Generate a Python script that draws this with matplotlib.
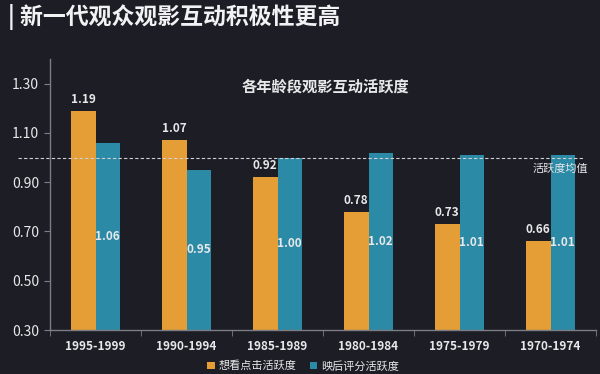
import numpy as np
import matplotlib
matplotlib.use("Agg")
import matplotlib.pyplot as plt

plt.rcParams['font.family'] = ['Noto Sans CJK SC', 'DejaVu Sans']

# data
groups = ['1995-1999', '1990-1994', '1985-1989', '1980-1984', '1975-1979', '1970-1974']
want_click = [1.19, 1.07, 0.92, 0.78, 0.73, 0.66]
post_rating = [1.06, 0.95, 1.00, 1.02, 1.01, 1.01]
series_names = ['想看点击活跃度', '映后评分活跃度']
avg_value = 1.0
yticks = [0.30, 0.50, 0.70, 0.90, 1.10, 1.30]

bg = '#1d1e25'
orange = '#e59d35'
teal = '#2b8aa5'
axis_col = '#7d7e85'
text_col = '#e8e8ea'

fig = plt.figure(figsize=(6, 3.74), dpi=100, facecolor=bg)
ax = fig.add_axes([50/600, 1-330/374, 546/600, (330-59)/374])
ax.set_facecolor(bg)

x = np.arange(len(groups))
w = 0.27
b1 = ax.bar(x - w/2, np.array(want_click) - 0.3, w, bottom=0.3, color=orange)
b2 = ax.bar(x + w/2, np.array(post_rating) - 0.3, w, bottom=0.3, color=teal)

for xi, v in zip(x, want_click):
    ax.text(xi - w/2, v + 0.02, f'{v:.2f}', ha='center', va='bottom',
            color=text_col, fontsize=8.5, fontweight='bold')
for xi, v in zip(x, post_rating):
    ax.text(xi + w/2, (v + 0.3)/2, f'{v:.2f}', ha='center', va='center',
            color=text_col, fontsize=8.5, fontweight='bold')

# average line
ax.plot([-0.059, 0.976], [avg_value, avg_value], ls=(0, (3, 2)), lw=0.8,
        color='#cfcfd4', transform=ax.get_yaxis_transform(), clip_on=False)
ax.text(0.935, avg_value - 0.025, '活跃度均值', transform=ax.get_yaxis_transform(),
        ha='center', va='top', color=text_col, fontsize=8)

ax.set_xlim(-0.5, len(groups) - 0.5)
ax.set_ylim(0.3, 1.4)
ax.set_yticks(yticks)
ax.set_yticklabels([f'{t:.2f}' for t in yticks])
ax.set_xticks(np.arange(len(groups) + 1) - 0.5, minor=True)
ax.set_xticks(x)
ax.set_xticklabels(groups, fontweight='bold')
ax.tick_params(axis='x', which='major', length=0, colors=text_col, labelsize=8.5, pad=7)
ax.tick_params(axis='x', which='minor', length=4, color=axis_col)
ax.tick_params(axis='y', length=4, color=axis_col, labelcolor=text_col, labelsize=10, pad=4)
for s in ['top', 'right']:
    ax.spines[s].set_visible(False)
for s in ['left', 'bottom']:
    ax.spines[s].set_color(axis_col)
    ax.spines[s].set_linewidth(1)

ax.text(0.504, 1.29, '各年龄段观影互动活跃度', ha='center', va='center',
        color=text_col, fontsize=11, fontweight='bold',
        transform=ax.get_yaxis_transform())

fig.text(8/600, 1-17/374, '| 新一代观众观影互动积极性更高', ha='left', va='center',
         color='#f2f2f4', fontsize=16.5, fontweight='bold')

fig.legend([b1, b2], series_names, loc='center', bbox_to_anchor=(303/600, 1-366/374),
           ncol=2, frameon=False, fontsize=8, handlelength=0.7, handleheight=0.7,
           handletextpad=0.3, columnspacing=1.2, labelcolor=text_col)

fig.savefig('out.png', dpi=100, facecolor=bg)
